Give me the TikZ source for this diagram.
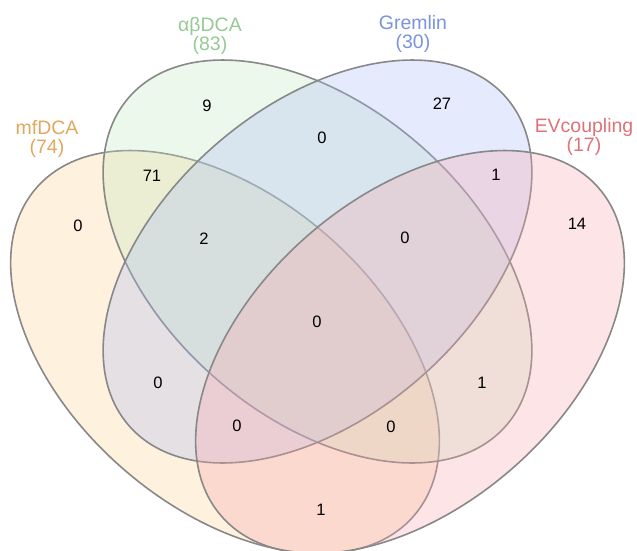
\documentclass[tikz,border=0pt]{standalone}
\usepackage{fontspec}
\setmainfont{Liberation Sans}
\definecolor{cO}{RGB}{252,208,145}
\definecolor{cG}{RGB}{195,232,192}
\definecolor{cB}{RGB}{168,185,245}
\definecolor{cP}{RGB}{248,165,172}
\definecolor{tO}{RGB}{224,168,94}
\definecolor{tG}{RGB}{150,201,150}
\definecolor{tB}{RGB}{122,147,219}
\definecolor{tP}{RGB}{221,115,120}
\definecolor{edge}{RGB}{136,136,136}
\begin{document}
\begin{tikzpicture}[x=0.75pt,y=-0.75pt,
  venn/.style={draw=edge, line width=1.2pt, fill opacity=0.3, draw opacity=1},
  num/.style={font=\fontsize{12.4}{14}\selectfont, text=black, inner sep=0pt},
  lab/.style={font=\fontsize{14.6}{14.6}\selectfont, align=center, inner sep=0pt}]
\useasboundingbox (0,0) rectangle (637,551);
% ellipses
\draw[venn, fill=cO, rotate around={-41:(225,352)}] (225,352) ellipse [x radius=250, y radius=155];
\draw[venn, fill=cG, rotate around={-41:(317.5,261.5)}] (317.5,261.5) ellipse [x radius=250, y radius=155];
\draw[venn, fill=cB, rotate around={41:(317.5,261.5)}] (317.5,261.5) ellipse [x radius=250, y radius=155];
\draw[venn, fill=cP, rotate around={41:(410,352)}] (410,352) ellipse [x radius=250, y radius=155];
% set labels
\node[lab, text=tO] (lO) at (47,139) {mfDCA\\(74)};
\node[lab, text=tG] (lG) at (210,36) {αβDCA\\(83)};
\node[lab, text=tB] (lB) at (413,34) {Gremlin\\(30)};
\node[lab, text=tP] (lP) at (584,137) {EVcoupling\\(17)};
% counts
\node[num] (nG) at (207,106) {9};
\node[num] (nB) at (442,104) {27};
\node[num] (nGB) at (322,138) {0};
\node[num] (nOG) at (152,176) {71};
\node[num] (nBP) at (496,175) {1};
\node[num] (nO) at (78,226) {0};
\node[num] (nP) at (577,224) {14};
\node[num] (nOGB) at (204,239) {2};
\node[num] (nGBP) at (405,238) {0};
\node[num] (nAll) at (317,322) {0};
\node[num] (nOB) at (158,383) {0};
\node[num] (nGP) at (482,383) {1};
\node[num] (nOBP) at (237,426) {0};
\node[num] (nOGP) at (391,427) {0};
\node[num] (nOP) at (321,510) {1};
\end{tikzpicture}
\end{document}
